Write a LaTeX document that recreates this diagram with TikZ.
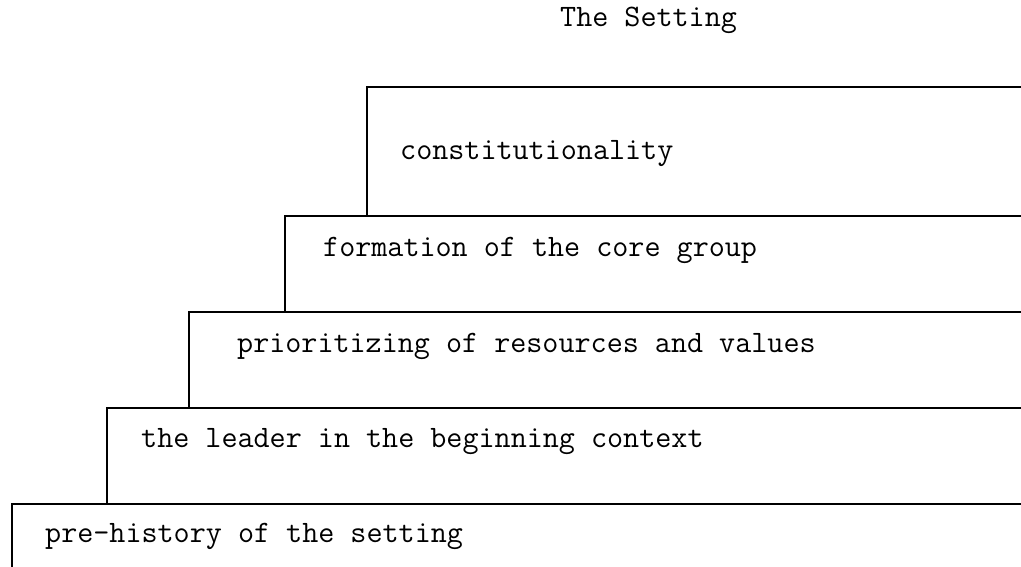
\documentclass[tikz,border=0pt]{standalone}
\usepackage{fontspec}
\begin{document}
\begin{tikzpicture}[x=1pt,y=-1pt,
  steptext/.style={anchor=base west, inner sep=0pt,
    font=\ttfamily\fontsize{31.2}{35}\selectfont\addfontfeatures{FakeBold=2.5}},
  stepline/.style={line width=2.8pt, line cap=rect}]
\useasboundingbox (0,0) rectangle (1021,567);
% title
\node[steptext] (title) at (560,27) {The Setting};
% corners of the staircase (left edge, top) and right ends
\coordinate (c1) at (367,87);  \coordinate (r1) at (1021,87);
\coordinate (c2) at (285,216); \coordinate (r2) at (1021,216);
\coordinate (c3) at (189,312); \coordinate (r3) at (1021,312);
\coordinate (c4) at (107,408); \coordinate (r4) at (1021,408);
\coordinate (c5) at (12,504);  \coordinate (r5) at (1021,504);
\coordinate (b5) at (12,567);
% steps
\draw[stepline] (r1) -- (c1) -- (c1 |- c2);
\draw[stepline] (r2) -- (c2) -- (c2 |- c3);
\draw[stepline] (r3) -- (c3) -- (c3 |- c4);
\draw[stepline] (r4) -- (c4) -- (c4 |- c5);
\draw[stepline] (r5) -- (c5) -- (b5);
% labels
\node[steptext] (s1) at (400,160) {constitutionality};
\node[steptext] (s2) at (323,256) {formation of the core group};
\node[steptext] (s3) at (237,352) {prioritizing of resources and values};
\node[steptext] (s4) at (141,447) {the leader in the beginning context};
\node[steptext] (s5) at (45,542) {pre-history of the setting};
\end{tikzpicture}
\end{document}
